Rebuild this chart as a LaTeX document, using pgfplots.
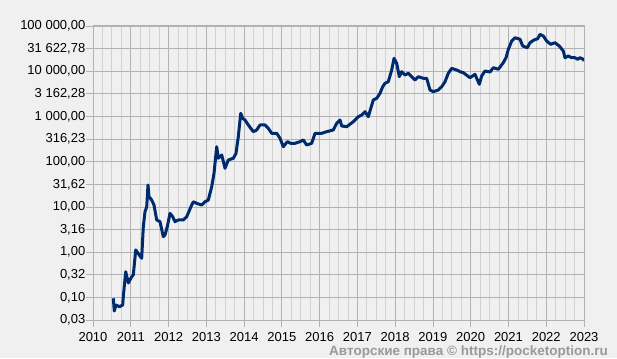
\documentclass[border=0pt]{standalone}
\usepackage{pgfplots}
\pgfplotsset{compat=1.18}
\usepackage{fontspec}
\setmainfont{Liberation Sans}
\definecolor{bg}{RGB}{240,240,240}
\definecolor{linec}{RGB}{0,42,110}
\definecolor{gridc}{RGB}{178,178,178}
\definecolor{mgrid}{RGB}{210,210,210}
\begin{document}
\begin{tikzpicture}
\fill[bg] (-93pt,-38pt) rectangle (524pt,320pt);
\begin{axis}[at={(0,0)}, anchor=south west, scale only axis,
  width=491pt, height=294pt,
  ymode=log, ymin=0.0316228, ymax=100000, xmin=2010, xmax=2023,
  xtick={2010,2011,2012,2013,2014,2015,2016,2017,2018,2019,2020,2021,2022,2023},
  xticklabels={2010,2011,2012,2013,2014,2015,2016,2017,2018,2019,2020,2021,2022,2023},
  minor x tick num=3,
  ytick={0.0316228,0.1,0.316228,1,3.16228,10,31.6228,100,316.228,1000,3162.28,10000,31622.8,100000},
  yticklabels={{0,03},{0,10},{0,32},{1,00},{3,16},{10,00},{31,62},{100,00},{316,23},{1 000,00},{3 162,28},{10 000,00},{31 622,78},{100 000,00}},
  xtick pos=bottom, ytick pos=left,
  tick align=outside, major tick length=7pt, minor tick length=0pt,
  tick style={gridc, line width=0.8pt},
  grid=both,
  major grid style={gridc, line width=0.8pt},
  minor grid style={mgrid, line width=0.8pt},
  axis line style={gridc, line width=1pt},
  axis background/.style={fill=bg},
  ticklabel style={font=\fontsize{13}{15}\selectfont, text=black},
  yticklabel style={inner sep=0.5pt},
  xticklabel style={inner sep=2pt, yshift=-3pt},
  clip=true,
]
\addplot[linec, line width=3pt, line join=round] coordinates {
(2010.537,0.0955) (2010.564,0.050) (2010.609,0.068) (2010.700,0.062) (2010.786,0.068)
(2010.802,0.1035) (2010.866,0.370) (2010.935,0.208) (2011.025,0.286) (2011.067,0.313)
(2011.131,1.12) (2011.226,0.865) (2011.289,0.73) (2011.332,3.66) (2011.377,7.84)
(2011.422,10.1) (2011.456,30.5) (2011.483,16.8) (2011.554,14.2) (2011.615,11.0)
(2011.687,5.14) (2011.774,4.71) (2011.861,2.20) (2011.906,2.40) (2011.967,3.66)
(2012.039,7.23) (2012.110,6.08) (2012.171,4.71) (2012.258,5.14) (2012.391,5.14)
(2012.481,6.08) (2012.613,11.0) (2012.656,13.0) (2012.746,12.0) (2012.878,11.0)
(2012.965,13.0) (2013.053,14.2) (2013.143,28.0) (2013.204,55.4) (2013.275,214)
(2013.317,119) (2013.408,141) (2013.495,71.4) (2013.582,109) (2013.715,119)
(2013.786,153) (2013.847,357) (2013.911,1175) (2013.964,910) (2014.024,835)
(2014.112,648) (2014.244,461) (2014.334,502) (2014.422,648) (2014.554,648)
(2014.641,547) (2014.731,424) (2014.864,424) (2014.951,329) (2015.039,214)
(2015.144,277) (2015.234,255) (2015.348,255) (2015.481,277) (2015.568,302)
(2015.658,234) (2015.790,255) (2015.878,424) (2015.965,424) (2016.055,424)
(2016.187,461) (2016.362,502) (2016.452,706) (2016.540,835) (2016.585,615)
(2016.717,594) (2016.892,766) (2017.024,988) (2017.114,1077) (2017.202,1275)
(2017.289,988) (2017.421,2311) (2017.511,2521) (2017.599,3250) (2017.670,4550)
(2017.731,5410) (2017.818,5870) (2017.909,10640) (2017.970,19300) (2018.041,14970)
(2018.110,7570) (2018.173,9770) (2018.261,8260) (2018.348,9000) (2018.438,7570)
(2018.525,6400) (2018.613,7570) (2018.745,6980) (2018.835,6980) (2018.922,3850)
(2019.010,3530) (2019.142,3850) (2019.232,4550) (2019.320,5870) (2019.407,9000)
(2019.497,11600) (2019.630,10640) (2019.717,9770) (2019.804,9290) (2019.982,7190)
(2020.114,8550) (2020.228,5140) (2020.291,7850) (2020.379,10120) (2020.511,9610)
(2020.599,11970) (2020.731,11040) (2020.863,15440) (2020.935,19900) (2020.996,30500)
(2021.086,46600) (2021.173,55100) (2021.306,50800) (2021.377,36100) (2021.499,33100)
(2021.570,42700) (2021.676,49000) (2021.774,52400) (2021.835,65500) (2021.922,60100)
(2022.012,46600) (2022.118,39400) (2022.232,42700) (2022.346,36100) (2022.452,28000)
(2022.497,19900) (2022.584,21700) (2022.674,19900) (2022.761,19900) (2022.833,18400)
(2022.894,19900) (2022.981,18400) (2023.000,16800)
};
\end{axis}
\node[anchor=base east, inner sep=0pt, text=gray!80, font=\fontsize{13.5}{15}\selectfont\bfseries] at (515pt,-35pt) {Авторские права © https://pocketoption.ru};
\end{tikzpicture}
\end{document}
